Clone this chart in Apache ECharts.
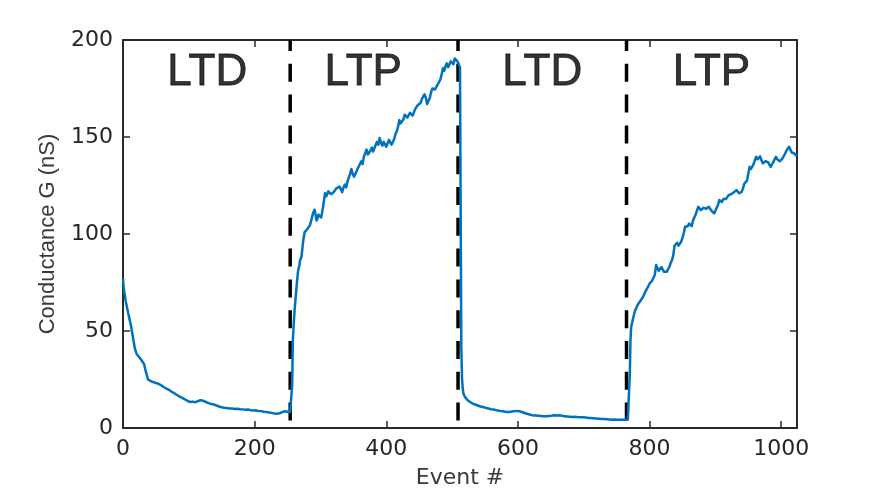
<!DOCTYPE html>
<html>
<head>
<meta charset="utf-8">
<script src="https://cdn.jsdelivr.net/npm/echarts@6/dist/echarts.min.js"></script>
<style>
  html, body { margin: 0; padding: 0; background: #ffffff; }
  #chart { width: 870px; height: 490px; }
</style>
</head>
<body>
<div id="chart"></div>
<script>
// Pulse train: LTD -> LTP -> LTD -> LTP, conductance (nS) per event
const ltd1Event = [0, 1, 2, 3, 4, 6, 8, 10, 12, 13, 15, 16, 18, 21, 24, 27, 30, 32, 34, 36, 38, 40, 43, 46, 50, 54, 58, 62, 66, 70, 74, 78, 82, 86, 90, 94, 98, 102, 106, 110, 114, 118, 122, 126, 130, 134, 138, 142, 146, 150, 154, 158, 162, 166, 170, 174, 178, 182, 186, 190, 194, 198, 202, 206, 210, 214, 218, 222, 226, 230, 234, 238, 242, 246, 250, 254];
const ltd1G = [77, 73, 70, 68, 65.5, 62.4, 59, 56, 53, 52, 47, 45, 41, 38, 37, 35.5, 34.5, 33, 30, 27.5, 25, 24.5, 24, 23.5, 23.2, 22.8, 22, 21, 20.3, 19.6, 18.7, 17.9, 17, 16.2, 15.5, 14.8, 14, 13.4, 13.6, 13.3, 13.9, 14.3, 14, 13.4, 12.8, 12.4, 12.1, 11.6, 11.1, 10.7, 10.4, 10.3, 10, 10.1, 9.8, 9.9, 9.7, 9.6, 9.4, 9.5, 9.2, 9.0, 9.1, 8.8, 8.7, 8.4, 8.2, 8.0, 7.8, 7.5, 7.4, 7.6, 8.2, 8.6, 8.4, 8.3];

const ltp1Event = [256, 257, 258, 260, 261, 263, 264, 266, 268, 269, 271, 273, 274, 276, 278, 280, 282, 284, 286, 287, 289, 291, 292, 294, 296, 297, 299, 301, 302, 304, 305, 307, 309, 310, 312, 314, 316, 318, 320, 322, 324, 326, 329, 331, 333, 335, 337, 339, 341, 343, 345, 347, 349, 351, 353, 355, 357, 359, 362, 364, 366, 368, 370, 372, 374, 376, 378, 380, 382, 384, 386, 388, 390, 392, 394, 396, 398, 400, 402, 404, 406, 408, 410, 412, 414, 416, 418, 420, 422, 424, 426, 428, 430, 432, 434, 436, 438, 440, 442, 444, 446, 448, 450, 452, 454, 456, 458, 460, 462, 464, 466, 468, 470, 472, 474, 476, 478, 480, 482, 484, 486, 488, 490, 492, 494, 496, 498, 500, 502, 504, 506, 508, 510, 512, 513];
const ltp1G = [8.5, 22, 45, 57, 62, 70, 74, 81, 84, 86.5, 88, 94, 97, 101, 100, 102.5, 103, 104.5, 107, 108.5, 111, 112.5, 111, 107, 108.5, 110, 110.5, 108.5, 110, 114, 116.5, 121, 119.5, 120.5, 122, 122.6, 120.5, 119.5, 121.5, 121, 123.5, 122.5, 124.5, 123, 121.5, 124, 125.5, 124, 127, 129, 131, 133.5, 131, 129.5, 130, 132.5, 134, 133, 137.5, 136, 140, 141.5, 143.5, 141, 140.5, 143, 144.5, 142.5, 143, 146, 147.5, 146, 149.5, 147, 145.5, 147.5, 146.5, 145, 146, 148.5, 148, 146, 146.7, 149, 151.5, 153, 155.5, 158.7, 157, 156.5, 159, 161.5, 162, 160, 159.5, 162.5, 163, 161, 162, 164.5, 165, 166.5, 165.5, 167.5, 169.5, 170, 172, 170.5, 167, 166.5, 170, 173, 175, 176, 174.5, 175.5, 177, 178, 179.5, 182, 185.4, 184, 186.5, 188, 186, 187, 189, 188.5, 187.5, 190.5, 191, 189, 187.5, 186, 185];

const ltd2Event = [514, 515, 516, 517, 519, 521, 524, 527, 531, 535, 539, 543, 547, 551, 555, 559, 563, 567, 571, 575, 579, 583, 587, 591, 595, 599, 603, 607, 611, 615, 619, 623, 627, 631, 635, 639, 643, 647, 651, 655, 659, 663, 667, 671, 675, 679, 683, 687, 691, 695, 699, 703, 707, 711, 715, 719, 723, 727, 731, 735, 739, 743, 747, 751, 755, 759, 763, 767, 769];
const ltd2G = [42, 26, 21, 18, 16.3, 15.3, 14.2, 13.4, 12.6, 12.1, 11.6, 11.1, 10.8, 10.4, 10.1, 9.7, 9.5, 9.2, 8.9, 8.7, 8.5, 8.3, 8.3, 8.5, 8.7, 8.8, 8.6, 8.1, 7.6, 7.2, 6.8, 6.5, 6.4, 6.3, 6.2, 6.1, 6.0, 6.2, 6.3, 6.6, 6.5, 6.6, 6.3, 6.0, 5.9, 5.8, 5.7, 5.8, 5.6, 5.5, 5.5, 5.4, 5.2, 5.1, 5.0, 4.9, 4.8, 4.7, 4.6, 4.5, 4.4, 4.3, 4.4, 4.3, 4.3, 4.2, 4.2, 4.3, 4.6];

const ltp2Event = [770, 771, 772, 774, 776, 778, 780, 782, 784, 786, 788, 790, 792, 794, 796, 798, 800, 802, 804, 806, 808, 810, 812, 814, 816, 818, 820, 822, 824, 826, 828, 830, 832, 834, 836, 838, 840, 842, 844, 846, 848, 850, 852, 854, 856, 858, 860, 862, 864, 866, 868, 870, 872, 874, 876, 878, 880, 882, 884, 886, 888, 890, 892, 894, 896, 898, 900, 902, 904, 906, 908, 910, 912, 914, 916, 918, 920, 922, 924, 926, 928, 930, 932, 934, 936, 938, 940, 942, 944, 946, 948, 950, 952, 954, 956, 958, 960, 962, 964, 966, 968, 970, 972, 974, 976, 978, 980, 982, 984, 986, 988, 990, 992, 994, 996, 998, 1000, 1002, 1004, 1006, 1008, 1010, 1012, 1014, 1016, 1018, 1020, 1022, 1024];
const ltp2G = [28, 45, 52, 55, 58, 60.5, 62, 63.5, 64.5, 65.5, 66, 67.5, 69, 70.5, 71.5, 73, 74.5, 75, 76, 77.5, 79, 84, 82.5, 81, 81.5, 83, 82.2, 80.5, 79.5, 80.5, 81.5, 83, 85, 86.5, 89, 94, 94.5, 95.5, 94, 95, 96, 98, 100.5, 103.7, 103, 104, 105.4, 104.5, 104, 107, 108.5, 110, 112, 114, 113, 112.3, 113, 113.5, 114, 113, 112.7, 114, 113.5, 112, 111.5, 110.6, 112, 113.5, 115, 117.5, 117, 116.5, 118, 119, 118, 118.5, 120, 121, 120.5, 120, 121.5, 122, 122.6, 122, 121, 121.5, 121.7, 123.5, 126, 127, 127.5, 131, 134.6, 133.5, 133, 136, 138, 139.8, 138.5, 138, 140, 138, 136.4, 137, 137.5, 138, 137, 136, 134.6, 135.5, 137, 138.5, 139.8, 138.5, 137.5, 137.5, 138, 139, 140, 141.5, 143, 144, 145, 143.5, 142, 141, 141.5, 140.5, 140];

// Phase boundaries (dashed markers) and phase captions
const phaseBoundary = [254, 509, 765];
const phaseName = ['LTD', 'LTP', 'LTD', 'LTP'];
const phaseCaptionEvent = [128, 365, 637, 894];
const phaseCaptionG = 183;

// Axis ticks
const xTicks = [0, 200, 400, 600, 800, 1000];
const yTicks = [0, 50, 100, 150, 200];

const segEvents = [ltd1Event, ltp1Event, ltd2Event, ltp2Event];
const segG = [ltd1G, ltp1G, ltd2G, ltp2G];
const trace = [];
segEvents.forEach((ev, s) => ev.forEach((e, i) => trace.push([e, segG[s][i]])));

const axisColor = '#2a2a2a';
const tickFont = { fontFamily: 'DejaVu Sans', fontSize: 22, color: '#262626' };

function boxAxis(extra) {
  return Object.assign({
    type: 'value',
    axisLine: { show: true, onZero: false, lineStyle: { color: axisColor, width: 2 } },
    axisTick: { show: true, inside: true, length: 7, lineStyle: { color: axisColor, width: 1.5 } },
    splitLine: { show: false },
  }, extra);
}

const chart = echarts.init(document.getElementById('chart'), null, { renderer: 'canvas' });

const dashSeries = phaseBoundary.map(b => ({
  type: 'line',
  data: [[b, 200], [b, 0]],
  symbol: 'none',
  silent: true,
  z: 2,
  lineStyle: { color: '#000000', width: 3.5, type: [18, 12.8], dashOffset: 7 },
  animation: false,
}));

chart.setOption({
  backgroundColor: '#ffffff',
  animation: false,
  grid: { left: 123, top: 40, width: 674, height: 388, containLabel: false, outerBoundsMode: 'none' },
  xAxis: [
    boxAxis({
      position: 'bottom', min: 0, max: 1024, interval: 200,
      axisLabel: Object.assign({ margin: 10, showMaxLabel: true,
        formatter: v => (xTicks.indexOf(v) >= 0 ? String(v) : '') }, tickFont),
      name: 'Event #', nameLocation: 'middle', nameGap: 39,
      nameTextStyle: { fontFamily: 'DejaVu Sans', fontSize: 22, color: '#3a3a3a' },
    }),
    boxAxis({ position: 'top', min: 0, max: 1024, interval: 200, axisLabel: { show: false } }),
  ],
  yAxis: [
    boxAxis({
      position: 'left', min: 0, max: 200, interval: 50,
      axisLabel: Object.assign({ margin: 10,
        formatter: v => (yTicks.indexOf(v) >= 0 ? String(v) : '') }, tickFont),
      name: 'Conductance G (nS)', nameLocation: 'middle', nameGap: 64,
      nameTextStyle: { fontFamily: 'Liberation Sans', fontSize: 22, color: '#3a3a3a' },
    }),
    boxAxis({ position: 'right', min: 0, max: 200, interval: 50, axisLabel: { show: false } }),
  ],
  series: [
    ...dashSeries,
    {
      type: 'line',
      name: 'G',
      data: trace,
      symbol: 'none',
      z: 3,
      lineStyle: { color: '#0072BD', width: 2.5, join: 'round' },
    },
    {
      type: 'scatter',
      data: phaseName.map((n, i) => ({ name: n, value: [phaseCaptionEvent[i], phaseCaptionG] })),
      symbolSize: 0,
      silent: true,
      z: 4,
      label: {
        show: true, position: 'inside', formatter: p => p.name,
        fontFamily: 'Liberation Sans', fontSize: 44, color: '#000000',
        textBorderColor: '#000000', textBorderWidth: 0.8,
      },
    },
  ],
});
</script>
</body>
</html>
